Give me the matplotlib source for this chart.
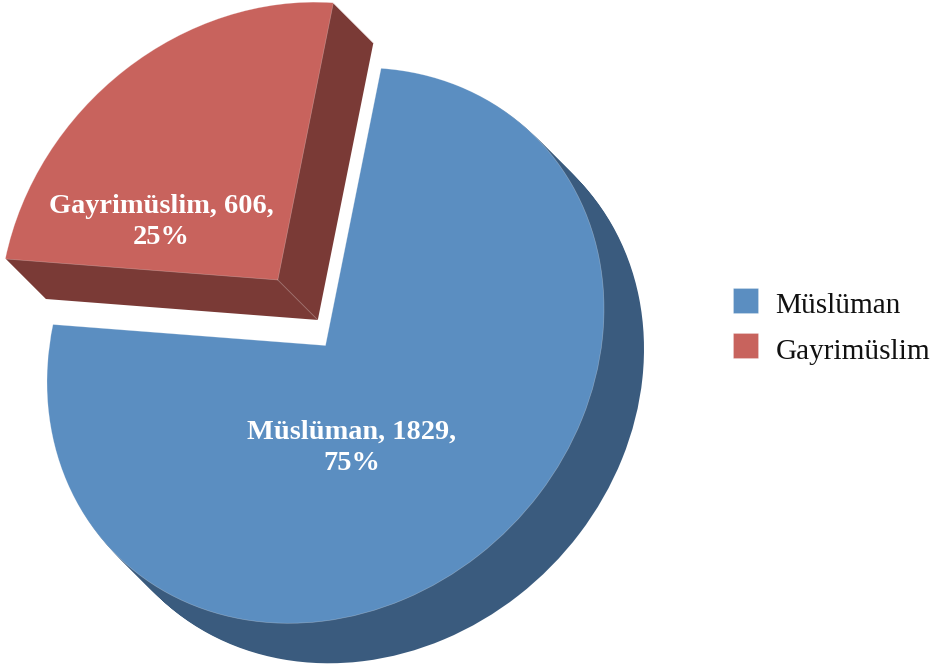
import matplotlib
matplotlib.use("Agg")
import matplotlib.pyplot as plt
from matplotlib.transforms import Affine2D

categories = ["Müslüman", "Gayrimüslim"]
values = [1829, 606]
percents = ["75%", "25%"]
face_colors = ["#5B8EC1", "#C8635D"]
side_colors = ["#3A5B7E", "#7A3A36"]
explode = [0, 0.312]

W, H = 934, 669
plt.rcParams["font.family"] = ["Liberation Serif", "DejaVu Serif"]
fig = plt.figure(figsize=(W / 100, H / 100), dpi=100)
ax = fig.add_axes([0, 0, 1, 1])

# perspective of the tilted pie, in pixels
tilt = Affine2D.from_values(272.5, -21, 57.5, 277, 325.5, H - 345.5)
DEPTH = 40

def draw_pie(dx, colors, **props):
    wedges, _ = ax.pie(values, explode=explode, colors=colors, startangle=180,
                       counterclock=True, radius=1, wedgeprops=props)
    for w in wedges:
        w.set_transform(tilt + Affine2D().translate(dx, -dx) + ax.transData)
        w.set_clip_on(False)
    return wedges

for d in range(DEPTH, 0, -1):
    draw_pie(d, side_colors, linewidth=0)
top = draw_pie(0, face_colors, linewidth=0.5, edgecolor=(1, 1, 1, 0.3))

# fold line between the two cut faces of the detached slice
apex = tilt.transform(top[1].center)
ax.plot([apex[0], apex[0] + DEPTH], [apex[1], apex[1] - DEPTH], color=(1, 1, 1, 0.3), lw=0.6)

ax.set_aspect("auto")
ax.set_xlim(0, W)
ax.set_ylim(0, H)
ax.axis("off")

label_pos = [(352, H - 447.5), (161, H - 222)]
for cat, val, pct, (x, y) in zip(categories, values, percents, label_pos):
    ax.text(x, y, f"{cat}, {val},\n{pct}", color="white", fontsize=20.4, fontweight="bold",
            ha="center", va="center", linespacing=1.33)

leg = ax.legend(top, categories, loc="upper left", bbox_to_anchor=(733 / W, 1 - 288 / H),
                frameon=False, fontsize=21.1, borderpad=0, borderaxespad=0,
                handlelength=0.853, handleheight=0.92, handletextpad=0.6, labelspacing=0.57,
                labelcolor="#111111")
for t in leg.get_texts():
    t.set_y(-3)

fig.savefig("out.png", dpi=100)
